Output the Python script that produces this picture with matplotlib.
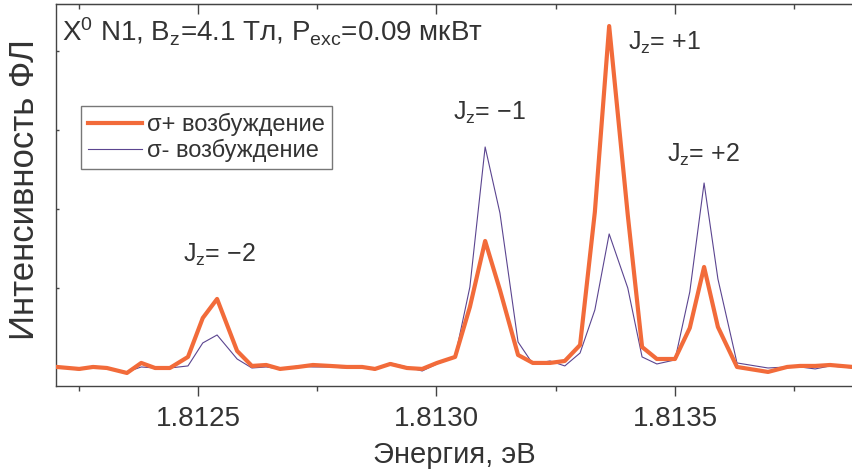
import matplotlib
matplotlib.use("Agg")
import matplotlib.pyplot as plt
from matplotlib.ticker import FixedLocator, FormatStrFormatter

# ---- data ----
energy_eV = [1.812204, 1.812251, 1.812280, 1.812309, 1.812351, 1.812381, 1.812410, 1.812441, 1.812479, 1.812510,
             1.812540, 1.812582, 1.812613, 1.812643, 1.812672, 1.812710, 1.812741, 1.812777, 1.812812, 1.812844,
             1.812871, 1.812903, 1.812938, 1.812970, 1.813001, 1.813039, 1.813070, 1.813102, 1.813133, 1.813171,
             1.813202, 1.813238, 1.813269, 1.813301, 1.813332, 1.813362, 1.813401, 1.813431, 1.813462, 1.813500,
             1.813531, 1.813561, 1.813590, 1.813630, 1.813695, 1.813735, 1.813762, 1.813794, 1.813825, 1.813873]

sigma_plus = [0, -25, 0, -13, -76, 51, -13, -13, 127, 620,
              861, 203, 13, 25, -25, 0, 25, 13, 0, 0,
              -25, 38, -13, -25, 51, 127, 759, 1595, 975, 152,
              51, 51, 76, 278, 1962, 4316, 1924, 253, 101, 101,
              494, 1266, 506, 0, -63, 0, 13, 13, 25, 0]

sigma_minus = [0, -38, 13, -13, -63, 0, -13, -13, 13, 304,
               405, 101, -13, 0, -25, 13, 0, 0, -13, 0,
               -38, 51, 0, -51, 38, 127, 1013, 2785, 1949, 316,
               38, 76, 13, 177, 722, 1684, 1000, 127, 38, 89,
               949, 2329, 1114, 51, -13, 0, 0, -25, 13, -13]

legend_labels = ["σ+ возбуждение", "σ- возбуждение"]
peak_labels = ["$J_z$= \u22122", "$J_z$= \u22121", "$J_z$= +1", "$J_z$= +2"]
peak_label_x = [1.812469, 1.813035, 1.813401, 1.813483]
peak_label_y = [1329, 3127, 4013, 2595]
title_text = "X$^0$ N1, B$_z$=4.1 Тл, P$_{exc}$=0.09 мкВт"
x_major = [1.8125, 1.8130, 1.8135]
x_minor = [1.81225, 1.81275, 1.81325, 1.81375]
y_ticks = [0, 1000, 2000, 3000, 4000]

# ---- style ----
plt.rcParams['font.family'] = ['Liberation Sans', 'DejaVu Sans']
plt.rcParams['mathtext.fontset'] = 'custom'
plt.rcParams['mathtext.rm'] = 'Liberation Sans'
plt.rcParams['mathtext.it'] = 'Liberation Sans'
plt.rcParams['mathtext.bf'] = 'Liberation Sans'

txt = '#333333'
orange = '#F26B3A'
purple = '#5B4590'
spine = '#444444'

fig = plt.figure(figsize=(8.53, 4.75), dpi=100)
ax = fig.add_axes([56/853, 1-386/475, 1-56/853, (386-4)/475])

ax.plot(energy_eV, sigma_plus, color=orange, lw=3.0, label=legend_labels[0], zorder=3)
ax.plot(energy_eV, sigma_minus, color=purple, lw=0.8, label=legend_labels[1], zorder=2)

ax.set_xlim(1.8122023, 1.8138732)
ax.set_ylim(-241, 4595)

for s in ['left', 'bottom', 'top']:
    ax.spines[s].set_color(spine)
    ax.spines[s].set_linewidth(1.0)
ax.spines['right'].set_visible(False)

ax.xaxis.set_major_locator(FixedLocator(x_major))
ax.xaxis.set_minor_locator(FixedLocator(x_minor))
ax.xaxis.set_major_formatter(FormatStrFormatter('%.4f'))
ax.yaxis.set_major_locator(FixedLocator(y_ticks))
ax.tick_params(axis='x', which='major', direction='out', length=7.2, width=1, color=spine,
               labelsize=20, labelcolor=txt, pad=7, top=False)
ax.tick_params(axis='x', which='minor', direction='out', length=3.6, width=1, color=spine, top=False)
ax.tick_params(axis='y', which='major', direction='in', length=2.5, width=1, color=spine,
               labelleft=False, right=False)

# top inward ticks
sec = ax.secondary_xaxis('top')
sec.xaxis.set_major_locator(FixedLocator(x_major))
sec.xaxis.set_minor_locator(FixedLocator(x_minor))
sec.tick_params(axis='x', which='major', direction='in', length=7.2, width=1, color=spine, labeltop=False)
sec.tick_params(axis='x', which='minor', direction='in', length=3.6, width=1, color=spine)
sec.spines['top'].set_color(spine)

ax.set_xlabel("Энергия, эВ", fontsize=21, color=txt, labelpad=7)
ax.set_ylabel("Интенсивность ФЛ", fontsize=25, color=txt)
ax.yaxis.set_label_coords((41-56)/797, (386-190)/382)

fig.text(62/853, 1-42/475, title_text, fontsize=20, color=txt, ha='left', va='baseline')
for lab, xx, yy in zip(peak_labels, peak_label_x, peak_label_y):
    ax.text(xx, yy, lab, fontsize=18, color=txt, ha='left', va='baseline')

leg = ax.legend(loc='upper left', bbox_to_anchor=((81-56)/797, (386-106)/382), borderaxespad=0,
                fontsize=17, frameon=True, fancybox=False, handlelength=2.3, handletextpad=0.2,
                labelspacing=0.12, borderpad=0.3)
leg.get_frame().set_edgecolor('#555555')
leg.get_frame().set_linewidth(1.0)
for t in leg.get_texts():
    t.set_color(txt)

fig.savefig('out.png', dpi=100)
